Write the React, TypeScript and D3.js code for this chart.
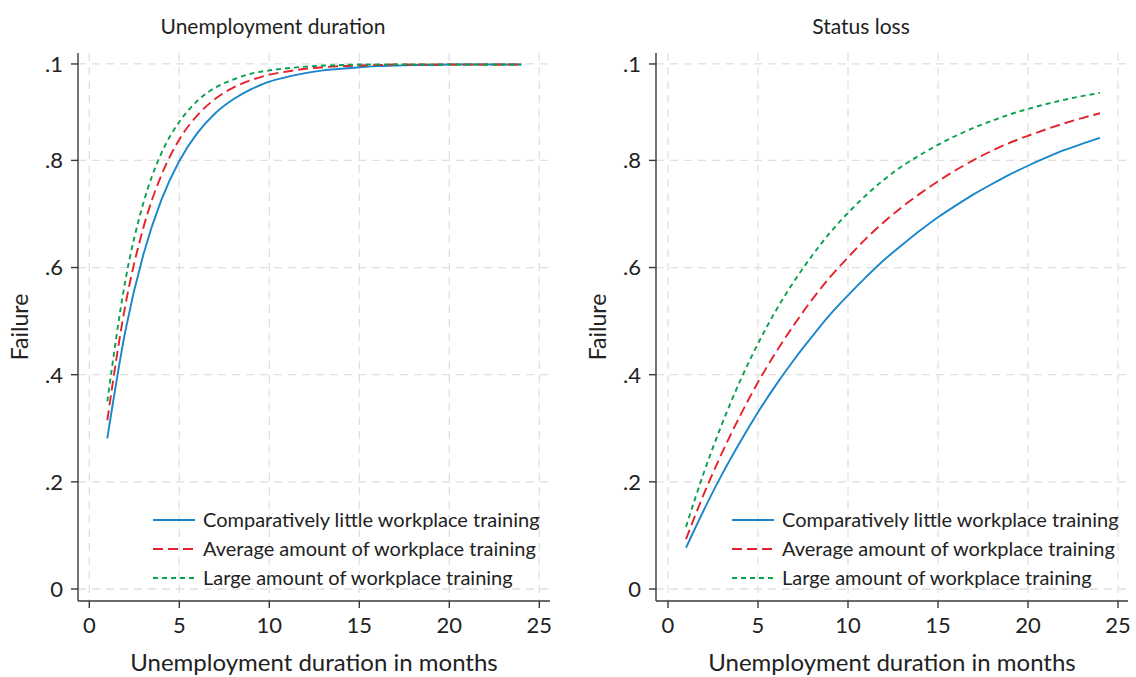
import { useEffect, useRef } from "react";
import * as d3 from "d3";

// months 1..24
const months = [1, 2, 3, 4, 5, 6, 7, 8, 9, 10, 11, 12, 13, 14, 15, 16, 17, 18, 19, 20, 21, 22, 23, 24];

// panel 1: unemployment duration
const durLittle = [0.281, 0.481, 0.624, 0.726, 0.799, 0.851, 0.888, 0.914, 0.933, 0.947, 0.956, 0.963, 0.968, 0.971, 0.974, 0.976, 0.977, 0.978, 0.978, 0.979, 0.979, 0.979, 0.979, 0.979];
const durAverage = [0.315, 0.529, 0.674, 0.772, 0.839, 0.884, 0.915, 0.936, 0.950, 0.960, 0.966, 0.971, 0.974, 0.976, 0.977, 0.978, 0.979, 0.979, 0.979, 0.979, 0.979, 0.979, 0.979, 0.979];
const durLarge = [0.350, 0.575, 0.720, 0.813, 0.872, 0.911, 0.936, 0.951, 0.962, 0.968, 0.972, 0.975, 0.977, 0.978, 0.979, 0.979, 0.979, 0.979, 0.979, 0.979, 0.979, 0.979, 0.979, 0.979];

// panel 2: status loss
const lossLittle = [0.077, 0.148, 0.214, 0.274, 0.330, 0.381, 0.428, 0.471, 0.512, 0.548, 0.582, 0.614, 0.642, 0.669, 0.694, 0.716, 0.737, 0.756, 0.774, 0.790, 0.805, 0.819, 0.831, 0.842];
const lossAverage = [0.093, 0.178, 0.254, 0.323, 0.386, 0.442, 0.493, 0.540, 0.582, 0.619, 0.654, 0.685, 0.713, 0.738, 0.761, 0.782, 0.801, 0.818, 0.833, 0.846, 0.858, 0.869, 0.879, 0.888];
const lossLarge = [0.116, 0.218, 0.308, 0.388, 0.458, 0.520, 0.574, 0.622, 0.665, 0.702, 0.735, 0.764, 0.789, 0.810, 0.829, 0.846, 0.861, 0.874, 0.886, 0.896, 0.905, 0.913, 0.920, 0.926];

const seriesNames = [
  "Comparatively little workplace training",
  "Average amount of workplace training",
  "Large amount of workplace training",
];
const colors = ["#1a86cc", "#e3232b", "#0aa04f"];
const dashes = ["none", "10 5", "5 4"];

const xTicks = [0, 5, 10, 15, 20, 25];
const yTicks = [0, 0.2, 0.4, 0.6, 0.8, 0.98];
const yTickLabels = ["0", ".2", ".4", ".6", ".8", ".1"];

const panels = [
  { title: "Unemployment duration", series: [durLittle, durAverage, durLarge] },
  { title: "Status loss", series: [lossLittle, lossAverage, lossLarge] },
];

const W = 1136, H = 677;
const FONT = "Lato, 'Open Sans', sans-serif";

export default function App() {
  const svgRef = useRef<SVGSVGElement>(null);

  useEffect(() => {
    const svg = d3.select(svgRef.current);
    svg.selectAll("*").remove();

    const layouts = [
      { axisLeft: 78, x0: 89.3, x1: 539.3, axisRight: 550, titleX: 273, yTitleX: 20, legendX: 153 },
      { axisLeft: 656, x0: 668, x1: 1118, axisRight: 1128, titleX: 861, yTitleX: 598, legendX: 732 },
    ];
    const top = 53, bottom = 601;
    const y = d3.scaleLinear().domain([0, 1]).range([589, 53.25]);

    panels.forEach((p, i) => {
      const L = layouts[i];
      const x = d3.scaleLinear().domain([0, 25]).range([L.x0, L.x1]);
      const g = svg.append("g");

      // grid
      g.selectAll(".hgrid")
        .data(yTicks)
        .join("line")
          .attr("x1", L.axisLeft)
          .attr("x2", L.axisRight)
          .attr("y1", d => y(d))
          .attr("y2", d => y(d))
          .attr("stroke", "#e0e0e0")
          .attr("stroke-width", 1.3)
          .attr("stroke-dasharray", "8 6");
      g.selectAll(".vgrid")
        .data(xTicks)
        .join("line")
          .attr("x1", d => x(d))
          .attr("x2", d => x(d))
          .attr("y1", top)
          .attr("y2", bottom)
          .attr("stroke", "#e0e0e0")
          .attr("stroke-width", 1.3)
          .attr("stroke-dasharray", "8 6");

      // axes lines
      g.append("line")
        .attr("x1", L.axisLeft).attr("x2", L.axisLeft)
        .attr("y1", top).attr("y2", bottom)
        .attr("stroke", "#3a3a3a").attr("stroke-width", 1.4);
      g.append("line")
        .attr("x1", L.axisLeft).attr("x2", L.axisRight)
        .attr("y1", bottom).attr("y2", bottom)
        .attr("stroke", "#3a3a3a").attr("stroke-width", 1.4);

      // y ticks
      yTicks.forEach((t, k) => {
        g.append("line")
          .attr("x1", L.axisLeft - 7).attr("x2", L.axisLeft)
          .attr("y1", y(t)).attr("y2", y(t))
          .attr("stroke", "#3a3a3a").attr("stroke-width", 1.4);
        g.append("text")
          .attr("x", L.axisLeft - 15)
          .attr("y", y(t))
          .attr("dy", "0.36em")
          .attr("text-anchor", "end")
          .style("font-family", FONT)
          .style("font-size", "22px")
          .attr("fill", "#222")
          .text(yTickLabels[k]);
      });

      // x ticks
      xTicks.forEach(t => {
        g.append("line")
          .attr("x1", x(t)).attr("x2", x(t))
          .attr("y1", bottom).attr("y2", bottom + 7)
          .attr("stroke", "#3a3a3a").attr("stroke-width", 1.4);
        g.append("text")
          .attr("x", x(t))
          .attr("y", 633)
          .attr("text-anchor", "middle")
          .style("font-family", FONT)
          .style("font-size", "22px")
          .attr("fill", "#222")
          .text(t);
      });

      // lines
      const line = d3.line<number>()
        .x((_, j) => x(months[j]))
        .y(d => y(d))
        .curve(d3.curveMonotoneX);
      p.series.forEach((s, k) => {
        g.append("path")
          .datum(s)
          .attr("d", line)
          .attr("fill", "none")
          .attr("stroke", colors[k])
          .attr("stroke-width", 1.9)
          .attr("stroke-dasharray", dashes[k]);
      });

      // legend
      seriesNames.forEach((name, k) => {
        const ly = 520 + k * 29;
        g.append("line")
          .attr("x1", L.legendX).attr("x2", L.legendX + 42)
          .attr("y1", ly).attr("y2", ly)
          .attr("stroke", colors[k])
          .attr("stroke-width", 1.9)
          .attr("stroke-dasharray", dashes[k]);
        g.append("text")
          .attr("x", L.legendX + 50)
          .attr("y", ly)
          .attr("dy", "0.35em")
          .style("font-family", FONT)
          .style("font-size", "20px")
          .attr("fill", "#222")
          .text(name);
      });

      // titles
      g.append("text")
        .attr("x", L.titleX)
        .attr("y", 34)
        .attr("text-anchor", "middle")
        .style("font-family", FONT)
        .style("font-size", "21px")
        .attr("fill", "#222")
        .text(p.title);

      g.append("text")
        .attr("x", (L.axisLeft + L.axisRight) / 2)
        .attr("y", 671)
        .attr("text-anchor", "middle")
        .style("font-family", FONT)
        .style("font-size", "24px")
        .attr("fill", "#222")
        .text("Unemployment duration in months");

      g.append("text")
        .attr("transform", `translate(${L.yTitleX},${(top + bottom) / 2}) rotate(-90)`)
        .attr("dy", "0.35em")
        .attr("text-anchor", "middle")
        .style("font-family", FONT)
        .style("font-size", "23px")
        .attr("fill", "#222")
        .text("Failure");
    });
  }, []);

  return (
    <svg
      ref={svgRef}
      width={W}
      height={H}
      style={{ position: "absolute", left: 0, top: 0, background: "#fff" }}
    ></svg>
  );
}
